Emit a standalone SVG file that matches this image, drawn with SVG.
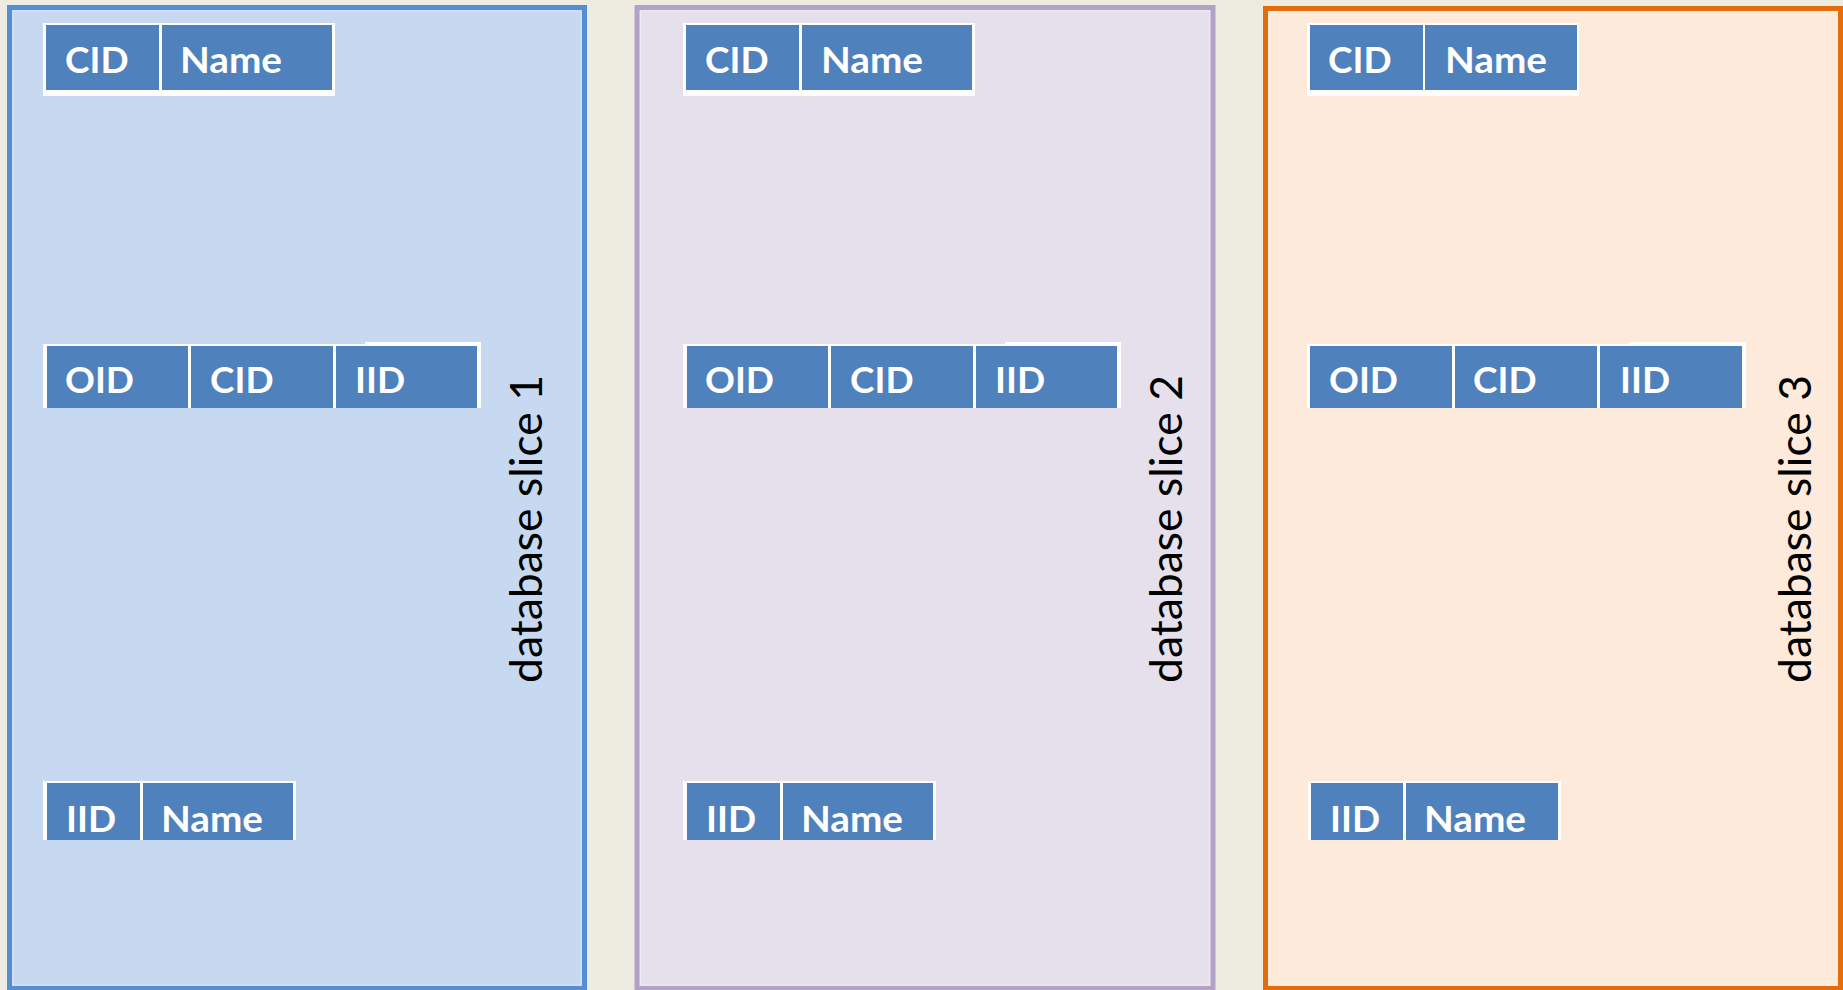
<svg xmlns="http://www.w3.org/2000/svg" width="1843" height="990" viewBox="0 0 1843 990">
<style>
.bg{fill:#EEECE1}
.p1{fill:#C6D9F1;stroke:#558ED5;stroke-width:5}
.p2{fill:#E6E0EC;stroke:#B3A2C7;stroke-width:5}
.p3{fill:#FDEADA;stroke:#E46C0A;stroke-width:5}
.inner{fill:none;stroke:#FFFFFF;stroke-opacity:0.35;stroke-width:1}
.wb{fill:#FFFFFF}
.c{fill:#4F81BD}
.t{fill:#FFFFFF;font-family:Lato,"Liberation Sans",sans-serif;font-weight:bold;font-size:37px}
.lab{fill:#000000;font-family:Lato,"Liberation Sans",sans-serif;font-size:44px}
</style>
<rect class="bg" x="0" y="0" width="1843" height="990"/>

<g id="slice1">
<rect class="p1" x="9.5" y="7.5" width="575" height="981"/>
<rect class="inner" x="13" y="11" width="568" height="974"/>
<g id="s1-customers">
<rect class="wb" x="43" y="23" width="292" height="73"/>
<rect class="c" x="46" y="25" width="113" height="65"/>
<rect class="c" x="162" y="25" width="170" height="65"/>
<text class="t" x="65" y="73">CID</text>
<text class="t" x="180" y="73" textLength="102" lengthAdjust="spacingAndGlyphs">Name</text>
</g>
<g id="s1-orders">
<rect class="wb" x="43" y="344" width="438" height="64"/>
<rect class="wb" x="365" y="342" width="116" height="3"/>
<rect class="c" x="47" y="346" width="141" height="62"/>
<rect class="c" x="191" y="346" width="142" height="62"/>
<rect class="c" x="336" y="346" width="141" height="62"/>
<text class="t" x="65" y="393">OID</text>
<text class="t" x="210" y="393">CID</text>
<text class="t" x="355" y="393">IID</text>
</g>
<g id="s1-items">
<rect class="wb" x="43" y="781" width="253" height="59"/>
<rect class="c" x="47" y="783" width="93" height="57"/>
<rect class="c" x="143" y="783" width="150" height="57"/>
<text class="t" x="66" y="832">IID</text>
<text class="t" x="161" y="832" textLength="102" lengthAdjust="spacingAndGlyphs">Name</text>
</g>
<text class="lab" transform="translate(542,683) rotate(-90)" x="0" y="0" textLength="308" lengthAdjust="spacingAndGlyphs">database slice 1</text>
</g>

<g id="slice2">
<rect class="p2" x="637" y="7.5" width="576" height="981"/>
<rect class="inner" x="640.5" y="11" width="569" height="974"/>
<g id="s2-customers">
<rect class="wb" x="683" y="23" width="292" height="73"/>
<rect class="c" x="686" y="25" width="113" height="65"/>
<rect class="c" x="802" y="25" width="170" height="65"/>
<text class="t" x="705" y="73">CID</text>
<text class="t" x="821" y="73" textLength="102" lengthAdjust="spacingAndGlyphs">Name</text>
</g>
<g id="s2-orders">
<rect class="wb" x="683" y="344" width="438" height="64"/>
<rect class="wb" x="1005" y="342" width="116" height="3"/>
<rect class="c" x="687" y="346" width="141" height="62"/>
<rect class="c" x="831" y="346" width="142" height="62"/>
<rect class="c" x="976" y="346" width="141" height="62"/>
<text class="t" x="705" y="393">OID</text>
<text class="t" x="850" y="393">CID</text>
<text class="t" x="995" y="393">IID</text>
</g>
<g id="s2-items">
<rect class="wb" x="683" y="781" width="253" height="59"/>
<rect class="c" x="687" y="783" width="93" height="57"/>
<rect class="c" x="783" y="783" width="150" height="57"/>
<text class="t" x="706" y="832">IID</text>
<text class="t" x="801" y="832" textLength="102" lengthAdjust="spacingAndGlyphs">Name</text>
</g>
<text class="lab" transform="translate(1182,683) rotate(-90)" x="0" y="0" textLength="308" lengthAdjust="spacingAndGlyphs">database slice 2</text>
</g>

<g id="slice3">
<rect class="p3" x="1265.5" y="8.5" width="575" height="980"/>
<rect class="inner" x="1269" y="12" width="568" height="973"/>
<g id="s3-customers">
<rect class="wb" x="1307" y="23" width="272" height="73"/>
<rect class="c" x="1310" y="25" width="113" height="65"/>
<rect class="c" x="1425" y="25" width="152" height="65"/>
<text class="t" x="1328" y="73">CID</text>
<text class="t" x="1445" y="73" textLength="102" lengthAdjust="spacingAndGlyphs">Name</text>
</g>
<g id="s3-orders">
<rect class="wb" x="1307" y="344" width="439" height="64"/>
<rect class="wb" x="1629" y="342" width="117" height="3"/>
<rect class="c" x="1310" y="346" width="142" height="62"/>
<rect class="c" x="1455" y="346" width="142" height="62"/>
<rect class="c" x="1600" y="346" width="142" height="62"/>
<text class="t" x="1329" y="393">OID</text>
<text class="t" x="1473" y="393">CID</text>
<text class="t" x="1620" y="393">IID</text>
</g>
<g id="s3-items">
<rect class="wb" x="1308" y="781" width="253" height="59"/>
<rect class="c" x="1311" y="783" width="92" height="57"/>
<rect class="c" x="1406" y="783" width="152" height="57"/>
<text class="t" x="1330" y="832">IID</text>
<text class="t" x="1424" y="832" textLength="102" lengthAdjust="spacingAndGlyphs">Name</text>
</g>
<text class="lab" transform="translate(1811,683) rotate(-90)" x="0" y="0" textLength="308" lengthAdjust="spacingAndGlyphs">database slice 3</text>
</g>

<g id="connectors"/>
</svg>
